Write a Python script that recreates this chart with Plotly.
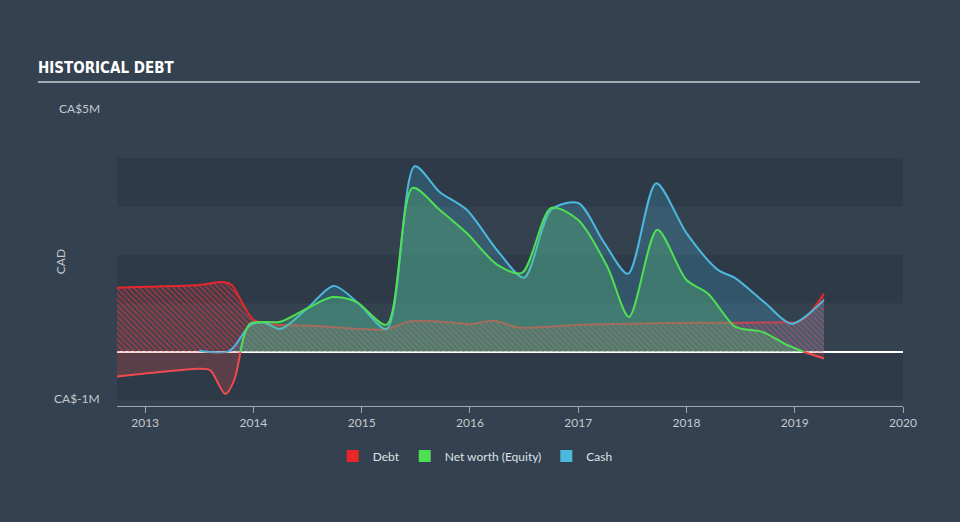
import plotly.graph_objects as go

# ---------------- data (values in CA$ millions, x in decimal years) ----------------
debt_x = [2012.74, 2013.0, 2013.5, 2013.72, 2013.8, 2013.9, 2014.0, 2014.15, 2014.5, 2015.0,
          2015.22, 2015.45, 2015.75, 2016.0, 2016.22, 2016.45, 2016.75, 2017.0, 2017.5,
          2018.0, 2018.5, 2018.93, 2019.0, 2019.1, 2019.27]
debt_y = [1.32, 1.34, 1.38, 1.44, 1.38, 1.0, 0.66, 0.57, 0.54, 0.47,
          0.46, 0.63, 0.62, 0.57, 0.64, 0.50, 0.52, 0.56, 0.58,
          0.60, 0.60, 0.61, 0.60, 0.70, 1.20]

equity_x = [2012.74, 2013.0, 2013.5, 2013.6, 2013.74, 2013.82, 2013.88, 2013.97, 2014.25,
            2014.5, 2014.73, 2014.95, 2015.23, 2015.47, 2015.72, 2015.97, 2016.25, 2016.48,
            2016.75, 2017.0, 2017.27, 2017.47, 2017.73, 2018.0, 2018.2, 2018.45, 2018.7,
            2018.93, 2019.08, 2019.27]
equity_y = [-0.51, -0.45, -0.35, -0.38, -0.87, -0.60, 0.0, 0.58, 0.62,
            0.90, 1.13, 1.03, 0.56, 3.38, 2.93, 2.45, 1.80, 1.63,
            2.97, 2.72, 1.75, 0.72, 2.52, 1.48, 1.20, 0.52, 0.41,
            0.14, 0.0, -0.14]

cash_x = [2013.5, 2013.78, 2013.97, 2014.1, 2014.25, 2014.5, 2014.74, 2014.97, 2015.23,
          2015.49, 2015.72, 2015.97, 2016.25, 2016.5, 2016.75, 2017.0, 2017.24, 2017.46,
          2017.72, 2018.0, 2018.29, 2018.45, 2018.73, 2018.97, 2019.27]
cash_y = [0.02, 0.02, 0.55, 0.60, 0.47, 0.90, 1.36, 1.00, 0.47,
          3.83, 3.30, 2.93, 2.10, 1.53, 2.93, 3.07, 2.25, 1.61,
          3.48, 2.45, 1.69, 1.52, 1.00, 0.58, 1.07]

year_ticks = [2013, 2014, 2015, 2016, 2017, 2018, 2019, 2020]
band_levels = [-1, 0, 1, 2, 3]
legend_names = ["Debt", "Net worth (Equity)", "Cash"]

# ---------------- styles ----------------
BG = "#344150"
BAND_DARK = "#2e3a48"
BAND_LIGHT = "#344250"
RED = "#e8272b"
RED_NEG = "#f04a50"
GREEN = "#4ee054"
BLUE = "#4bb9de"
TXT = "#c3c9cf"
FONT = "Lato, Open Sans, sans-serif"

fig = go.Figure()

# debt: hatched area + line
fig.add_trace(go.Scatter(
    x=debt_x, y=debt_y, mode="lines", line=dict(color=RED, width=2, shape="spline", smoothing=0.8),
    fill="tozeroy", fillcolor="rgba(0,0,0,0)",
    fillpattern=dict(shape="\\", fgcolor="rgba(225,58,64,1)", bgcolor="rgba(0,0,0,0)",
                     size=4, solidity=0.6, fillmode="overlay"),
    hoverinfo="skip", showlegend=False))

# cash area + line
fig.add_trace(go.Scatter(
    x=cash_x, y=cash_y, mode="lines", line=dict(color=BLUE, width=2, shape="spline", smoothing=0.8),
    fill="tozeroy", fillcolor="rgba(71,184,224,0.22)", hoverinfo="skip", showlegend=False))

# equity split into positive / negative segments at its zero crossings
segments = []
cur = [0]
for i in range(1, len(equity_y)):
    cur.append(i)
    if equity_y[i] == 0:
        segments.append(cur)
        cur = [i]
if len(cur) > 1:
    segments.append(cur)

for seg in segments:
    xs = [equity_x[i] for i in seg]
    ys = [equity_y[i] for i in seg]
    neg = sum(ys) < 0
    fig.add_trace(go.Scatter(
        x=xs, y=ys, mode="lines",
        line=dict(color=RED_NEG if neg else GREEN, width=2, shape="spline", smoothing=0.8),
        fill="tozeroy",
        fillcolor="rgba(230,80,80,0.24)" if neg else "rgba(85,200,118,0.30)",
        hoverinfo="skip", showlegend=False))

# legend swatches
for name, col in zip(legend_names, [RED, GREEN, BLUE]):
    fig.add_trace(go.Scatter(
        x=[None], y=[None], mode="markers", name=name,
        marker=dict(symbol="square", size=13, color=col)))

# background bands
shapes = []
for k, lv in enumerate(band_levels):
    shapes.append(dict(type="rect", xref="paper", yref="y", x0=0, x1=1, y0=lv, y1=lv + 1,
                       fillcolor=BAND_DARK if k % 2 == 0 else BAND_LIGHT, line=dict(width=0),
                       layer="below"))
# title underline
shapes.append(dict(type="line", xref="paper", yref="paper", x0=-0.1005, x1=1.0216,
                   y0=1.3065, y1=1.3065, line=dict(color="#a3abb3", width=2)))

annotations = [
    dict(text="CA$5M", xref="paper", yref="paper", x=-0.0195, y=1.2016, xanchor="right",
         yanchor="middle", showarrow=False, font=dict(size=12, color=TXT, family=FONT)),
    dict(text="CA$-1M", xref="paper", yref="paper", x=-0.0195, y=0.032, xanchor="right",
         yanchor="middle", showarrow=False, font=dict(size=12, color=TXT, family=FONT)),
    dict(text="CAD", xref="paper", yref="paper", x=-0.0725, y=0.58, textangle=-90,
         xanchor="center", yanchor="middle", showarrow=False,
         font=dict(size=12, color=TXT, family=FONT)),
]

fig.update_layout(
    width=960, height=522,
    paper_bgcolor=BG, plot_bgcolor=BG,
    margin=dict(l=117, r=57, t=158, b=116),
    title=dict(text="<b>HISTORICAL DEBT</b>", xref="container", yref="container",
               x=38 / 960, y=1 - 68 / 522, xanchor="left", yanchor="middle",
               font=dict(size=15, color="#ffffff",
                         family="DejaVu Sans Condensed, Liberation Sans Narrow, sans-serif")),
    shapes=shapes, annotations=annotations,
    showlegend=True,
    legend=dict(orientation="h", xref="container", yref="container", x=0.495, y=1 - 456 / 522,
                xanchor="center", yanchor="middle", bgcolor="rgba(0,0,0,0)",
                font=dict(size=12, color="#dde1e5", family=FONT),
                itemsizing="constant"),
    xaxis=dict(range=[2012.74, 2020.0], tickvals=year_ticks, ticktext=[str(y) for y in year_ticks],
               showgrid=False, zeroline=False, showline=True, linecolor="#9fa8b1", linewidth=1,
               ticks="outside", ticklen=6, tickcolor="#9fa8b1",
               tickfont=dict(size=12, color=TXT, family=FONT)),
    yaxis=dict(range=[-1.12, 4.0], showgrid=False, showticklabels=False, zeroline=True,
               zerolinecolor="#ffffff", zerolinewidth=1.5, fixedrange=True),
)

fig.write_html("out.html")
